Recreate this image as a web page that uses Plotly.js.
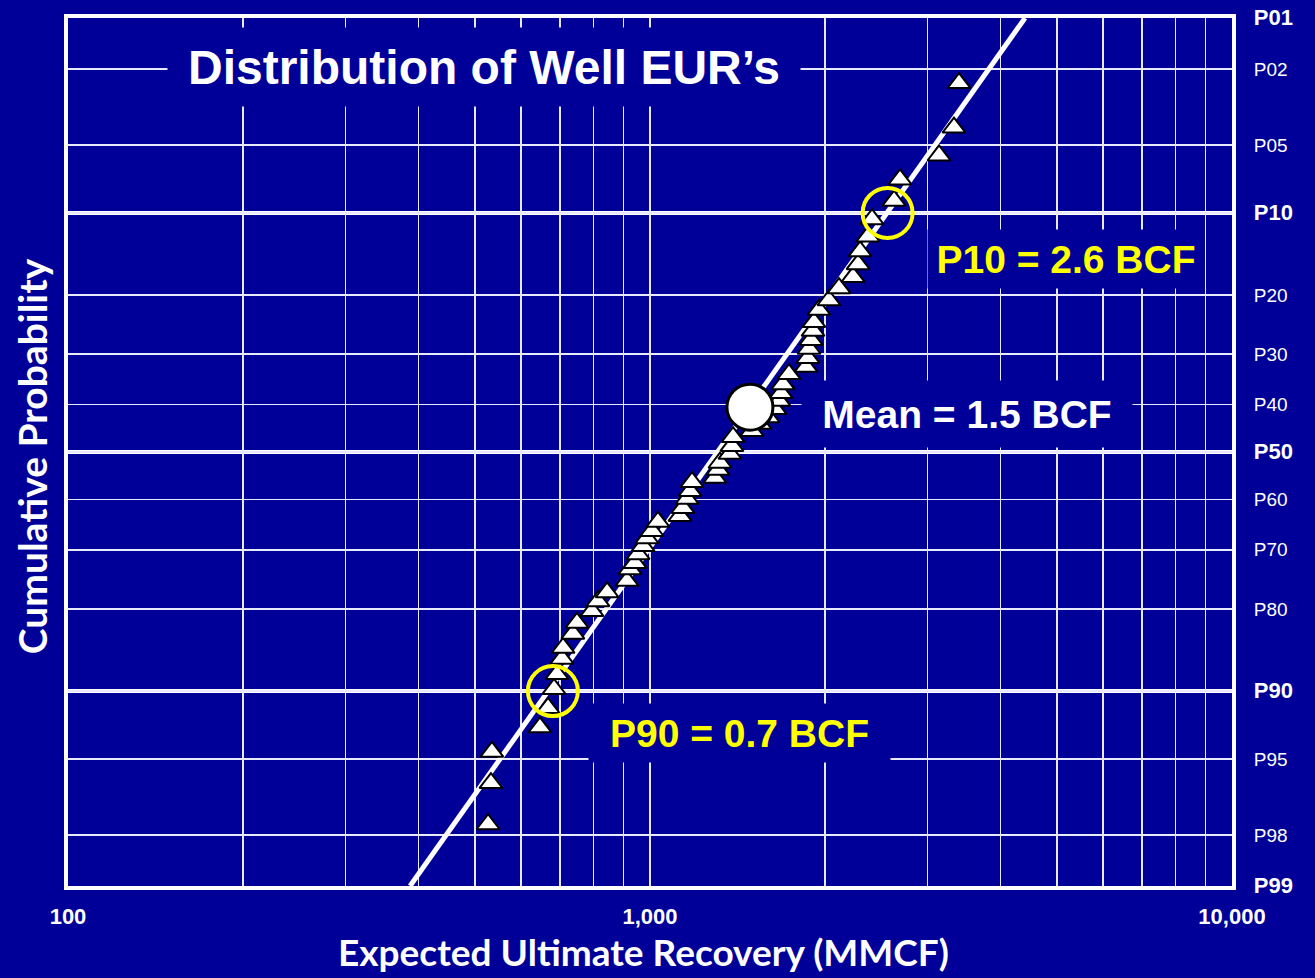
<!DOCTYPE html>
<html><head><meta charset="utf-8">
<script src="https://cdn.plot.ly/plotly-3.0.1.min.js"></script>
<style>html,body{margin:0;padding:0;background:#000099;} #chart{width:1315px;height:978px;}</style>
</head><body><div id="chart"></div>
<script>
// ---- data ----
const probTicks = [1, 2, 5, 10, 20, 30, 40, 50, 60, 70, 80, 90, 95, 98, 99];
const probLabels = ['P01','P02','P05','P10','P20','P30','P40','P50','P60','P70','P80','P90','P95','P98','P99'];
const majorLabels = ['P01','P10','P50','P90','P99'];
const majorGridProbs = [10, 50, 90];
const xTickVals = [100,200,300,400,500,600,700,800,900,1000,2000,3000,4000,5000,6000,7000,8000,9000,10000];
const xTickText = ['100','','','','','','','','','1,000','','','','','','','','','10,000'];

// well EUR (MMCF) and cumulative probability (%)
const wellEUR = [527,533,535,647,668,684,692,706,709,737,749,795,814,844,913,924,942,954,973,988,
  1008,1032,1126,1139,1158,1172,1181,1293,1309,1319,1372,1383,1389,1497,1545,1595,1640,1666,1680,1692,
  1733,1854,1868,1876,1891,1906,1913,1951,2030,2112,2233,2278,2296,2369,2407,2626,2689,3138,3329,3396];
const wellProb = [97.7,96.2,94.6,93.0,91.5,89.8,88.3,86.6,85.3,83.5,82.0,80.3,78.8,77.4,75.5,73.5,72.4,70.8,69.3,67.8,
  66.4,64.6,63.4,61.8,59.9,58.3,56.4,55.5,53.8,52.3,50.4,48.7,46.8,45.5,44.0,42.6,40.9,39.2,37.6,35.8,
  33.8,32.4,30.7,29.0,27.4,25.8,24.3,22.3,20.8,19.0,17.4,15.7,14.1,12.4,10.6,8.9,7.2,5.6,4.1,2.4];

const fitEUR = [387, 4409];
const fitProb = [99, 1];
const p10EUR = [2560], p10Prob = [10];
const p90EUR = [681],  p90Prob = [90];
const meanEUR = [1485], meanProb = [40.5];

// ---- probability scale (normal quantile) ----
function norminv(p){
  const a=[-3.969683028665376e+01,2.209460984245205e+02,-2.759285104469687e+02,1.383577518672690e+02,-3.066479806614716e+01,2.506628277459239e+00];
  const b=[-5.447609879822406e+01,1.615858368580409e+02,-1.556989798598866e+02,6.680131188771972e+01,-1.328068155288572e+01];
  const c=[-7.784894002430293e-03,-3.223964580411365e-01,-2.400758277161838e+00,-2.549732539343734e+00,4.374664141464968e+00,2.938163982698783e+00];
  const d=[7.784695709041462e-03,3.224671290700398e-01,2.445134137142996e+00,3.754408661907416e+00];
  const pl=0.02425, ph=1-pl; let q,r;
  if(p<pl){q=Math.sqrt(-2*Math.log(p));return (((((c[0]*q+c[1])*q+c[2])*q+c[3])*q+c[4])*q+c[5])/((((d[0]*q+d[1])*q+d[2])*q+d[3])*q+1);}
  if(p<=ph){q=p-0.5;r=q*q;return (((((a[0]*r+a[1])*r+a[2])*r+a[3])*r+a[4])*r+a[5])*q/(((((b[0]*r+b[1])*r+b[2])*r+b[3])*r+b[4])*r+1);}
  q=Math.sqrt(-2*Math.log(1-p));return -(((((c[0]*q+c[1])*q+c[2])*q+c[3])*q+c[4])*q+c[5])/((((d[0]*q+d[1])*q+d[2])*q+d[3])*q+1);
}
const toY = arr => arr.map(p => norminv(p/100));

const BG = '#000099';
const yTickVals = toY(probTicks);
const yTickText = probLabels.map(l => majorLabels.includes(l) ? '<b><span style="font-size:22px">'+l+'</span></b>' : l);

const traces = [
  {x: fitEUR, y: toY(fitProb), mode:'lines', line:{color:'#ffffff', width:5}, hoverinfo:'skip'},
  {x: wellEUR, y: toY(wellProb), mode:'markers',
   marker:{symbol:'triangle-up', size:20, color:'#ffffff', line:{color:'#000000', width:2}}},
  {x: p10EUR.concat(p90EUR), y: toY(p10Prob.concat(p90Prob)), mode:'markers',
   marker:{symbol:'circle-open', size:50, color:'#ffff00', line:{width:4}}},
  {x: meanEUR, y: toY(meanProb), mode:'markers',
   marker:{symbol:'circle', size:46, color:'#ffffff', line:{color:'#000000', width:3}}}
];

const shapes = majorGridProbs.map(p => ({type:'line', xref:'paper', x0:0, x1:1, yref:'y',
  y0:norminv(p/100), y1:norminv(p/100), line:{color:'#ffffff', width:4}, layer:'below'}));

const annFont = {family:'Liberation Sans, Arial, sans-serif', weight:'bold'};
const layout = {
  width:1315, height:978,
  paper_bgcolor:BG, plot_bgcolor:BG,
  margin:{l:68, r:83, t:18, b:92},
  showlegend:false,
  xaxis:{type:'log', range:[2,4], tickvals:xTickVals, ticktext:xTickText,
    showgrid:true, gridcolor:'#e8e8ff', gridwidth:1.5, zeroline:false,
    showline:true, mirror:true, linecolor:'#ffffff', linewidth:4, ticks:'',
    ticklabelstandoff:8,
    tickfont:{family:'Liberation Sans, Arial, sans-serif', size:22, color:'#ffffff', weight:'bold'}},
  yaxis:{range:[norminv(0.99), norminv(0.01)], side:'right', tickvals:yTickVals, ticktext:yTickText,
    showgrid:true, gridcolor:'#e8e8ff', gridwidth:1.5, zeroline:false,
    showline:true, mirror:true, linecolor:'#ffffff', linewidth:4, ticks:'',
    ticklabelstandoff:14,
    tickfont:{family:'Liberation Sans, Arial, sans-serif', size:19, color:'#ffffff'}},
  shapes:shapes,
  annotations:[
    {text:'Expected Ultimate Recovery (MMCF)', xref:'paper', yref:'paper', x:0.4940, y:-0.0760,
      showarrow:false, xanchor:'center', yanchor:'middle',
      font:{family:'Lato, sans-serif', size:37, color:'#ffffff', weight:'bold'}},
    {text:'Cumulative Probability', xref:'paper', yref:'paper', x:-0.031, y:0.495, textangle:-90,
      showarrow:false, xanchor:'center', yanchor:'middle',
      font:{family:'Lato, sans-serif', size:39, color:'#ffffff', weight:'bold'}},
    {text:'Distribution of Well EUR’s', xref:'paper', yref:'paper', x:0.3574, y:0.9435,
      showarrow:false, xanchor:'center', yanchor:'middle', bgcolor:BG, width:620, height:66, borderpad:6,
      font:Object.assign({size:48, color:'#ffffff'}, annFont)},
    {text:'P10 = 2.6 BCF', xref:'paper', yref:'paper', x:0.8574, y:0.7220,
      showarrow:false, xanchor:'center', yanchor:'middle', bgcolor:BG, width:268, height:50, borderpad:4,
      font:Object.assign({size:39, color:'#ffff00'}, annFont)},
    {text:'Mean = 1.5 BCF', xref:'paper', yref:'paper', x:0.7723, y:0.5438,
      showarrow:false, xanchor:'center', yanchor:'middle', bgcolor:BG, width:318, height:54, borderpad:6,
      font:Object.assign({size:39, color:'#ffffff'}, annFont)},
    {text:'P90 = 0.7 BCF', xref:'paper', yref:'paper', x:0.5773, y:0.1763,
      showarrow:false, xanchor:'center', yanchor:'middle', bgcolor:BG, width:293, height:50, borderpad:4,
      font:Object.assign({size:39, color:'#ffff00'}, annFont)}
  ]
};

Plotly.newPlot('chart', traces, layout, {staticPlot:true, displayModeBar:false});
</script>
</body></html>
